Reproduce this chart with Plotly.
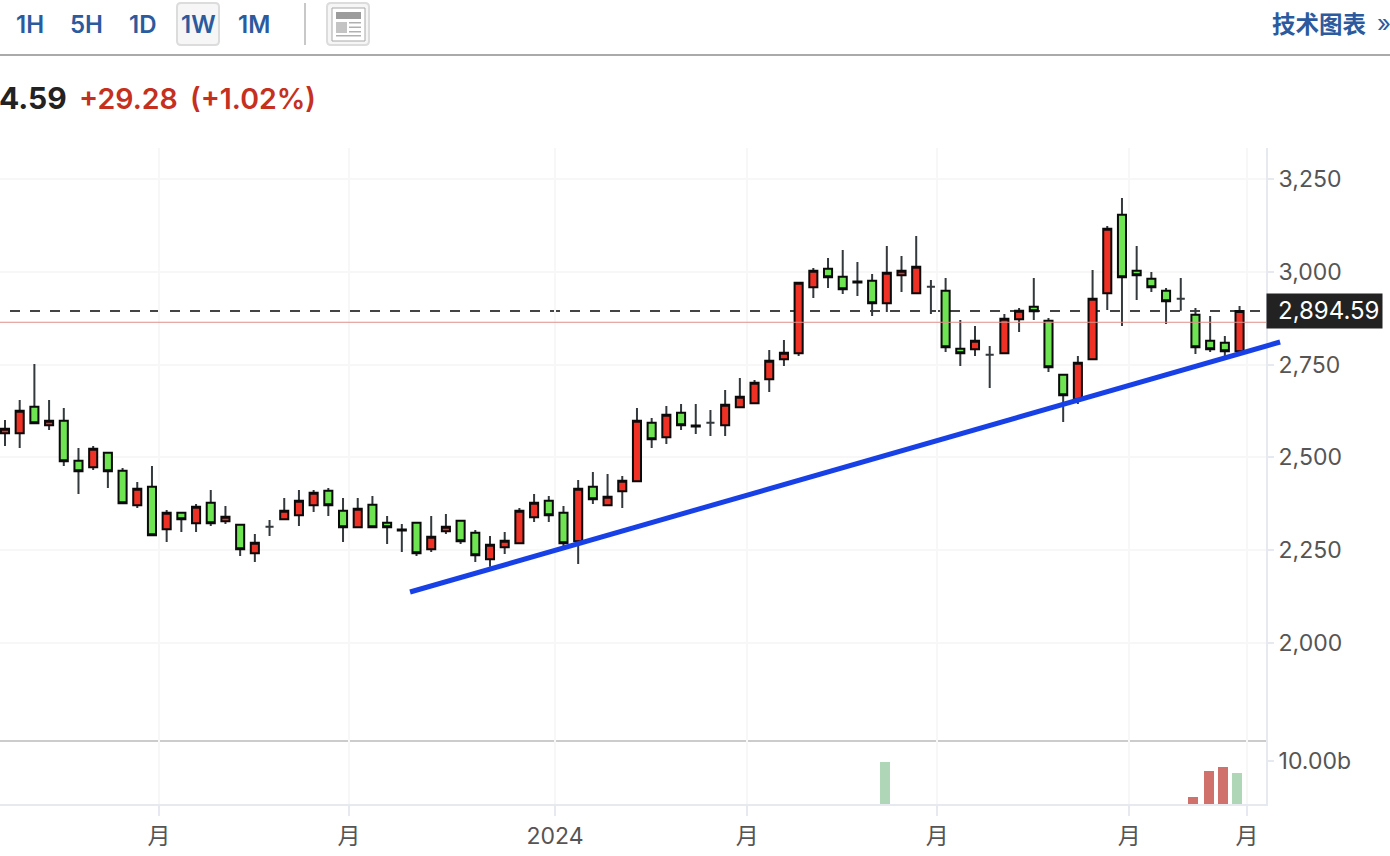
import plotly.graph_objects as go

W, H = 1390, 856

opens = [2564.9,2564.9,2636.7,2586.4,2599.0,2491.2,2473.3,2512.8,2464.3,2370.9,2421.2,2306.2,2351.1,2322.4,2378.1,2327.8,2318.8,2241.6,2313.4,2333.2,
         2344.0,2370.9,2410.4,2356.5,2311.6,2372.6,2324.2,2303.1,2324.2,2252.3,2300.8,2329.5,2297.2,2225.4,2257.7,2268.5,2338.5,2383.4,2351.1,2273.9,
         2421.1,2370.9,2408.6,2435.5,2593.5,2554.0,2620.5,2585.9,2593.5,2586.3,2634.8,2645.6,2710.3,2764.1,2780.3,2958.1,3008.4,2986.8,2973.9,2976.1,
         2915.0,2990.4,2942.0,2959.9,2949.1,2793.0,2791.2,2776.8,2780.4,2872.0,2906.1,2868.4,2722.9,2656.4,2764.2,2942.0,3153.9,3003.1,2981.5,2949.2,
         2927.7,2884.6,2814.5,2809.1,2785.8]
highs = [2600.8,2654.7,2751.6,2654.7,2633.1,2525.3,2530.7,2512.8,2471.5,2433.8,2476.9,2358.3,2351.1,2374.5,2412.2,2369.1,2318.8,2293.7,2331.4,2390.6,
         2412.2,2412.2,2417.6,2390.6,2390.6,2396.0,2342.1,2320.6,2324.2,2342.1,2347.5,2329.5,2304.4,2288.2,2299.0,2363.7,2401.4,2396.0,2369.1,2439.1,
         2460.7,2455.3,2449.9,2633.1,2606.1,2638.4,2643.8,2643.8,2627.6,2681.5,2713.8,2708.5,2789.3,2816.2,2970.7,3010.2,3037.1,3058.7,3026.4,2994.0,
         3069.5,3042.5,3096.4,2977.9,2983.3,2870.2,2854.0,2800.1,2886.3,2902.5,2983.3,2875.6,2722.9,2773.2,3004.9,3123.4,3198.8,3069.5,2999.5,2956.4,
         2983.3,2902.5,2881.0,2827.1,2907.9]
lows = [2530.7,2525.3,2591.8,2573.8,2476.9,2401.4,2466.1,2417.6,2376.3,2363.7,2290.0,2272.1,2299.1,2299.1,2315.2,2320.6,2234.4,2218.2,2288.3,2333.2,
        2315.2,2353.0,2342.2,2272.1,2311.6,2311.6,2266.7,2245.1,2234.4,2245.1,2293.6,2266.7,2218.2,2205.6,2239.8,2268.5,2326.0,2326.0,2261.3,2212.8,
        2374.4,2370.9,2363.7,2435.5,2525.3,2536.0,2573.8,2563.0,2557.6,2557.6,2634.8,2645.6,2676.1,2746.2,2773.1,2929.4,2956.3,2940.1,2934.8,2880.9,
        2891.6,2945.5,2942.0,2886.3,2783.9,2746.3,2773.2,2687.0,2780.4,2837.9,2870.2,2730.1,2595.4,2643.9,2764.2,2897.1,2854.0,2924.1,2945.6,2859.4,
        2895.3,2778.6,2784.0,2773.2,2785.8]
closes = [2577.4,2625.9,2591.8,2599.0,2489.4,2462.5,2523.5,2462.5,2376.3,2415.8,2290.0,2351.1,2333.2,2367.3,2322.4,2340.4,2252.4,2270.3,2313.4,2356.5,
          2383.5,2405.0,2370.9,2311.6,2361.9,2311.6,2311.6,2305.7,2241.5,2286.4,2313.4,2273.9,2236.2,2264.9,2275.7,2356.5,2378.0,2343.9,2268.5,2415.8,
          2387.0,2394.2,2437.3,2598.9,2548.6,2615.0,2586.3,2583.2,2593.5,2642.0,2663.6,2701.3,2760.5,2782.1,2970.7,3003.0,2985.0,2952.7,2971.1,2915.0,
          2997.6,3003.0,3013.8,2959.9,2796.5,2780.4,2814.5,2776.8,2873.8,2895.3,2893.5,2742.7,2667.2,2755.2,2927.7,3116.2,2985.1,2990.5,2958.2,2920.5,
          2927.7,2796.5,2791.2,2785.8,2894.59]

volume_weeks = [59.88, 80.84, 81.93, 82.88, 83.83]
volume_values = [9.7e9, 1.6e9, 7.6e9, 8.5e9, 7.2e9]
volume_colors = ["#b0d6b8", "#d0716c", "#d0716c", "#d0716c", "#b0d6b8"]

x_tick_pos = [10.48, 23.41, 37.43, 50.5, 63.43, 76.5, 84.5]
x_tick_labels = ["月", "月", "2024", "月", "月", "月", "月"]
y_tick_vals = [2000, 2250, 2500, 2750, 3000, 3250]
y_tick_text = ["2,000", "2,250", "2,500", "2,750", "3,000", "3,250"]

last_price = 2894.59
ref_level = 2864
trend_x = [27.56, 86.76]
trend_y = [2137.4, 2810.9]

FONT = "Inter, 'Noto Sans CJK SC', sans-serif"
BLUE = "#2b5b9e"
GRID = "#f7f7f8"
AXIS = "#e6e9f0"
WICK = "#33393c"
X_RANGE = [-0.34, 85.80]
Y_RANGE = [1738.7, 3333.5]

def px(x):
    return x / W

def py(y):
    return 1 - y / H

n = len(opens)
idx = list(range(n))
body = [i for i in idx if opens[i] != closes[i]]
mids = [(opens[i] + closes[i]) / 2 for i in idx]

fig = go.Figure()
# wicks (and the flat "+" weeks) sit below the bodies in the candlestick layer
fig.add_trace(go.Candlestick(
    x=idx, open=mids, close=mids, high=highs, low=lows,
    increasing=dict(line=dict(color=WICK, width=2), fillcolor=WICK),
    decreasing=dict(line=dict(color=WICK, width=2), fillcolor=WICK),
    showlegend=False, hoverinfo="skip"))
fig.add_trace(go.Candlestick(
    x=body, open=[opens[i] for i in body], close=[closes[i] for i in body],
    high=[max(opens[i], closes[i]) for i in body], low=[min(opens[i], closes[i]) for i in body],
    increasing=dict(line=dict(color="#0a0a0a", width=2), fillcolor="#ee3124"),
    decreasing=dict(line=dict(color="#0a0a0a", width=2), fillcolor="#6ee452"),
    showlegend=False, hoverinfo="skip"))
fig.add_trace(go.Bar(x=volume_weeks, y=volume_values, width=0.68, marker=dict(color=volume_colors, line=dict(width=0)),
                     xaxis="x2", yaxis="y2", hoverinfo="skip", showlegend=False))
fig.add_trace(go.Scatter(x=trend_x, y=trend_y, mode="lines", line=dict(color="#1740e6", width=5),
                         xaxis="x3", yaxis="y3", hoverinfo="skip", showlegend=False))

shapes = [
    dict(type="line", xref="x domain", x0=0, x1=1, yref="y", y0=last_price, y1=last_price,
         line=dict(color="#444444", width=2, dash="0px,10px,10px,0px"), layer="below"),
    dict(type="line", xref="x domain", x0=0, x1=1, yref="y", y0=ref_level, y1=ref_level,
         line=dict(color="#dd8f8c", width=1), layer="above"),
    dict(type="line", xref="paper", yref="paper", x0=0, x1=1, y0=py(55), y1=py(55), line=dict(color="#aaaaaa", width=2)),
    dict(type="line", xref="paper", yref="paper", x0=px(305), x1=px(305), y0=py(3), y1=py(45), line=dict(color="#c8c8c8", width=2)),
]

def rrect(x0, y0, x1, y1, r, fill, line, width=2):
    p = (f"M {px(x0+r)} {py(y0)} L {px(x1-r)} {py(y0)} Q {px(x1)} {py(y0)} {px(x1)} {py(y0+r)} "
         f"L {px(x1)} {py(y1-r)} Q {px(x1)} {py(y1)} {px(x1-r)} {py(y1)} "
         f"L {px(x0+r)} {py(y1)} Q {px(x0)} {py(y1)} {px(x0)} {py(y1-r)} "
         f"L {px(x0)} {py(y0+r)} Q {px(x0)} {py(y0)} {px(x0+r)} {py(y0)} Z")
    return dict(type="path", xref="paper", yref="paper", path=p, fillcolor=fill, line=dict(color=line, width=width))

def rect(x0, y0, x1, y1, fill, line=None, width=0):
    return dict(type="rect", xref="paper", yref="paper", x0=px(x0), x1=px(x1), y0=py(y0), y1=py(y1),
                fillcolor=fill, line=dict(color=line or fill, width=width))

shapes += [
    rrect(177, 3, 219, 45, 4, "#f6f6f6", "#dcdcdc"),
    rrect(327, 3, 369, 45, 4, "#f6f6f6", "#dcdcdc"),
    rect(332, 8, 365, 41, "#ffffff", "#a8a8a8", 1),
    rect(336, 12, 361, 19, "#9c9c9c"),
    rect(336, 22, 347, 33, "#c4c4c4"),
    rect(349, 22, 361, 23.5, "#b0b0b0"),
    rect(349, 26.5, 361, 28, "#b0b0b0"),
    rect(349, 31, 361, 32.5, "#b0b0b0"),
    rect(336, 35, 361, 36.5, "#b0b0b0"),
]

def note(text, x, y, size, color, anchor="left", weight=600):
    return dict(text=text, x=px(x), y=py(y), xref="paper", yref="paper", xanchor=anchor, yanchor="middle",
                showarrow=False, font=dict(family=FONT, size=size, color=color, weight=weight))

annotations = [
    note("1H", 30, 24, 24, BLUE, "center"),
    note("5H", 86, 24, 24, BLUE, "center"),
    note("1D", 142, 24, 24, BLUE, "center"),
    note("1W", 198, 24, 24, BLUE, "center"),
    note("1M", 254, 24, 24, BLUE, "center"),
    note("技术图表", 1368, 24, 23.5, BLUE, "right"),
    note("»", 1384, 23, 24, BLUE, "center", 400),
    note("4.59", 69, 98, 30, "#222222", "right", 700),
    note("+29.28", 77, 98, 28.5, "#c5301f", "left", 600),
    note("(+1.02%)", 188, 98, 28.5, "#c5301f", "left", 600),
    dict(text="&nbsp;", x=px(1265.5), y=last_price, xref="paper", yref="y", xanchor="left", yanchor="middle",
         showarrow=False, width=115, height=34, bgcolor="#222222", borderpad=0,
         font=dict(family=FONT, size=23, color="#ffffff")),
    dict(text="2,894.59", x=px(1328), y=last_price, xref="paper", yref="y", xanchor="center", yanchor="middle",
         showarrow=False, font=dict(family=FONT, size=24, color="#ffffff")),
]

tickfont = dict(family=FONT, size=23, color="#555555")
fig.update_layout(
    width=W, height=H, margin=dict(l=0, r=0, t=0, b=0),
    paper_bgcolor="#ffffff", plot_bgcolor="rgba(0,0,0,0)", showlegend=False, bargap=0,
    boxmode="overlay", boxgap=0.45, boxgroupgap=0,
    shapes=shapes, annotations=annotations,
    xaxis=dict(domain=[0, px(1266)], range=X_RANGE, anchor="y", tickmode="array", tickvals=x_tick_pos,
               showticklabels=False, ticks="", showgrid=True, gridcolor=GRID, gridwidth=2, zeroline=False,
               showline=True, linecolor="#cccccc", linewidth=2, rangeslider=dict(visible=False)),
    yaxis=dict(domain=[py(740), py(148)], range=Y_RANGE, anchor="x", side="right", tickmode="array",
               tickvals=y_tick_vals, ticktext=y_tick_text, tickfont=tickfont, ticks="outside", ticklen=6, tickwidth=2,
               tickcolor=AXIS, showgrid=True, gridcolor=GRID, gridwidth=2, zeroline=False, showline=True,
               linecolor=AXIS, linewidth=2),
    xaxis2=dict(domain=[0, px(1266)], range=X_RANGE, anchor="y2", tickmode="array", tickvals=x_tick_pos,
                ticktext=x_tick_labels, tickfont=tickfont, ticks="outside", ticklen=10, tickwidth=2, tickcolor=AXIS,
                showgrid=True, gridcolor=GRID, gridwidth=2, zeroline=False, showline=True, linecolor=AXIS, linewidth=2,
                rangeslider=dict(visible=False), tickangle=0),
    yaxis2=dict(domain=[py(804), py(740)], range=[0, 14.78e9], anchor="x2", side="right", tickmode="array",
                tickvals=[10e9], ticktext=["10.00b"], tickfont=tickfont, ticks="outside", ticklen=6, tickwidth=2,
                tickcolor=AXIS, showgrid=False, zeroline=False, showline=True, linecolor=AXIS, linewidth=2),
    # same scale as the main axes, carried on to the right page edge for the trend line that overruns the plot
    xaxis3=dict(domain=[0, 1], range=[X_RANGE[0], X_RANGE[0] + (X_RANGE[1] - X_RANGE[0]) * W / 1266], anchor="y3",
                visible=False),
    yaxis3=dict(domain=[py(740), py(148)], range=Y_RANGE, anchor="x3", visible=False),
)

fig.write_html("out.html", config={"displayModeBar": False},
               post_script="document.body.style.margin='0';document.body.style.overflow='hidden';")
